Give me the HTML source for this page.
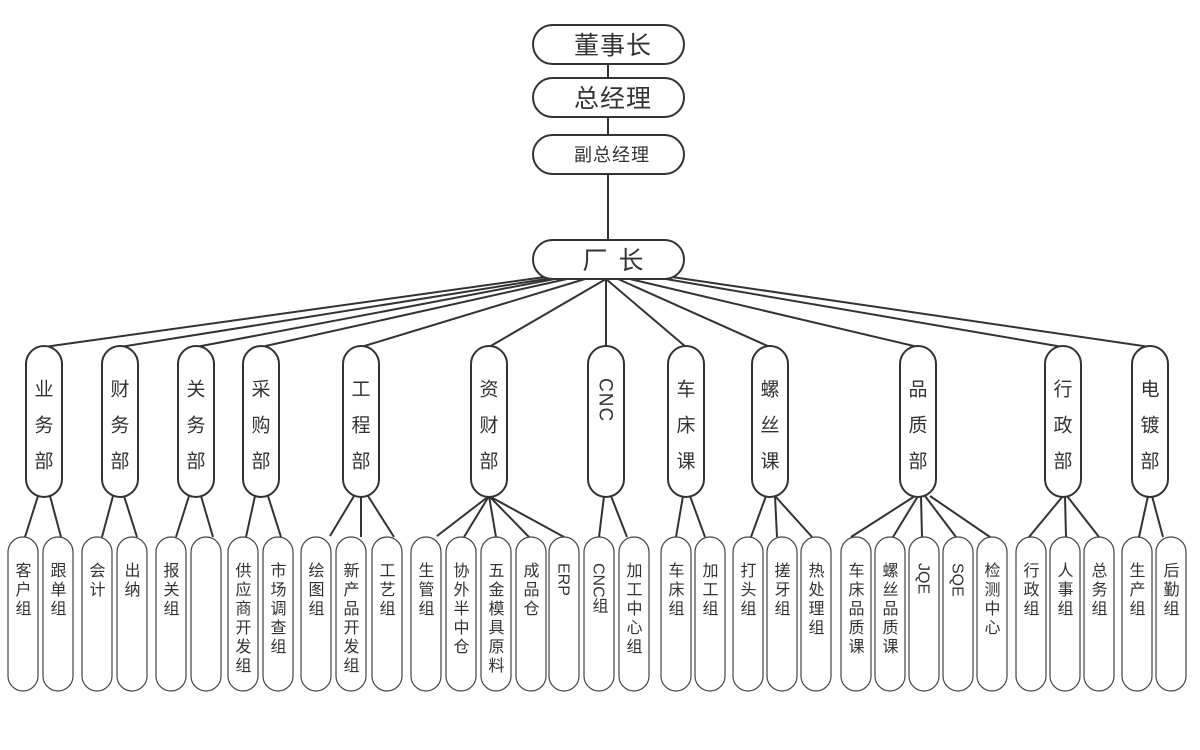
<!DOCTYPE html>
<html><head><meta charset="utf-8"><style>
html,body{margin:0;padding:0;background:#fff;}
svg{display:block;font-family:"Liberation Sans","Noto Sans CJK SC",sans-serif;}
.n{fill:#fff;stroke:#333;stroke-width:2;}
.b{fill:#fff;stroke:#444;stroke-width:1.2;}
.l{stroke:#333;stroke-width:2;fill:none;}
.v1{writing-mode:vertical-rl;font-size:19px;letter-spacing:17px;fill:#333;}
.v2{writing-mode:vertical-rl;font-size:16px;letter-spacing:3px;fill:#333;}
</style></head><body>
<svg width="1200" height="750" viewBox="0 0 1200 750">
<g class="l">
<line x1="608" y1="64" x2="608" y2="78"/>
<line x1="608" y1="117" x2="608" y2="135"/>
<line x1="608" y1="174" x2="608" y2="240"/>
<line x1="545" y1="277" x2="44" y2="347"/>
<line x1="552" y1="278" x2="120" y2="347"/>
<line x1="560" y1="278" x2="196" y2="347"/>
<line x1="567" y1="279" x2="261" y2="347"/>
<line x1="585" y1="279" x2="361" y2="347"/>
<line x1="606" y1="279" x2="489" y2="347"/>
<line x1="606" y1="279" x2="606" y2="347"/>
<line x1="606" y1="279" x2="686" y2="347"/>
<line x1="618" y1="279" x2="770" y2="347"/>
<line x1="630" y1="279" x2="918" y2="347"/>
<line x1="660" y1="278" x2="1063" y2="347"/>
<line x1="672" y1="277" x2="1150" y2="347"/>
<line x1="38" y1="496" x2="25" y2="537"/><line x1="50" y1="496" x2="61" y2="537"/>
<line x1="113" y1="496" x2="102" y2="537"/><line x1="124" y1="496" x2="137" y2="537"/>
<line x1="189" y1="496" x2="176" y2="537"/><line x1="201" y1="496" x2="213" y2="537"/>
<line x1="255" y1="496" x2="246" y2="537"/><line x1="268" y1="496" x2="281" y2="537"/>
<line x1="354" y1="496" x2="330" y2="536"/><line x1="361" y1="496" x2="361" y2="537"/><line x1="368" y1="496" x2="394" y2="537"/>
<line x1="489" y1="496" x2="437" y2="536"/><line x1="489" y1="496" x2="464" y2="537"/><line x1="489" y1="496" x2="496" y2="537"/><line x1="489" y1="496" x2="529" y2="537"/><line x1="489" y1="496" x2="564" y2="537"/>
<line x1="604" y1="496" x2="599" y2="537"/><line x1="611" y1="496" x2="627" y2="537"/>
<line x1="683" y1="496" x2="676" y2="537"/><line x1="690" y1="496" x2="705" y2="537"/>
<line x1="766" y1="496" x2="751" y2="537"/><line x1="775" y1="496" x2="777" y2="537"/><line x1="775" y1="496" x2="812" y2="537"/>
<line x1="915" y1="496" x2="851" y2="537"/><line x1="918" y1="496" x2="893" y2="537"/><line x1="921" y1="496" x2="922" y2="537"/><line x1="925" y1="496" x2="956" y2="537"/><line x1="930" y1="496" x2="990" y2="537"/>
<line x1="1063" y1="496" x2="1029" y2="537"/><line x1="1065" y1="496" x2="1066" y2="537"/><line x1="1067" y1="496" x2="1099" y2="537"/>
<line x1="1148" y1="496" x2="1139" y2="537"/><line x1="1152" y1="496" x2="1163" y2="537"/>
</g>
<rect class="n" x="533" y="25" width="151" height="39" rx="19.5"/>
<rect class="n" x="533" y="78" width="151" height="39" rx="19.5"/>
<rect class="n" x="533" y="135" width="151" height="39" rx="19.5"/>
<rect class="n" x="533" y="240" width="151" height="39" rx="19.5"/>
<g fill="#333" text-anchor="middle">
<text x="613" y="54" font-size="25" letter-spacing="1">董事长</text>
<text x="613" y="107" font-size="25" letter-spacing="1">总经理</text>
<text x="612" y="161" font-size="18" letter-spacing="1">副总经理</text>
<text x="614" y="269" font-size="25" letter-spacing="2">厂 长</text>
</g>
<g>
<rect class="n" x="26" y="346" width="36" height="151" rx="18"/>
<rect class="n" x="102" y="346" width="36" height="151" rx="18"/>
<rect class="n" x="178" y="346" width="36" height="151" rx="18"/>
<rect class="n" x="243" y="346" width="36" height="151" rx="18"/>
<rect class="n" x="343" y="346" width="36" height="151" rx="18"/>
<rect class="n" x="471" y="346" width="36" height="151" rx="18"/>
<rect class="n" x="588" y="346" width="36" height="151" rx="18"/>
<rect class="n" x="668" y="346" width="36" height="151" rx="18"/>
<rect class="n" x="752" y="346" width="36" height="151" rx="18"/>
<rect class="n" x="900" y="346" width="36" height="151" rx="18"/>
<rect class="n" x="1045" y="346" width="36" height="151" rx="18"/>
<rect class="n" x="1132" y="346" width="36" height="151" rx="18"/>
</g>
<g class="v1">
<text x="42" y="379">业务部</text>
<text x="118" y="379">财务部</text>
<text x="194" y="379">关务部</text>
<text x="259" y="379">采购部</text>
<text x="359" y="379">工程部</text>
<text x="487" y="379">资财部</text>
<text x="605" y="378" style="letter-spacing:1px">CNC</text>
<text x="684" y="379">车床课</text>
<text x="768" y="379">螺丝课</text>
<text x="916" y="379">品质部</text>
<text x="1061" y="379">行政部</text>
<text x="1148" y="379">电镀部</text>
</g>
<g>
<rect class="b" x="8" y="537" width="30" height="154" rx="15"/>
<rect class="b" x="43" y="537" width="30" height="154" rx="15"/>
<rect class="b" x="82" y="537" width="30" height="154" rx="15"/>
<rect class="b" x="117" y="537" width="30" height="154" rx="15"/>
<rect class="b" x="156" y="537" width="30" height="154" rx="15"/>
<rect class="b" x="191" y="537" width="30" height="154" rx="15"/>
<rect class="b" x="228" y="537" width="30" height="154" rx="15"/>
<rect class="b" x="263" y="537" width="30" height="154" rx="15"/>
<rect class="b" x="301" y="537" width="30" height="154" rx="15"/>
<rect class="b" x="336" y="537" width="30" height="154" rx="15"/>
<rect class="b" x="372" y="537" width="30" height="154" rx="15"/>
<rect class="b" x="411" y="537" width="30" height="154" rx="15"/>
<rect class="b" x="446" y="537" width="30" height="154" rx="15"/>
<rect class="b" x="481" y="537" width="30" height="154" rx="15"/>
<rect class="b" x="516" y="537" width="30" height="154" rx="15"/>
<rect class="b" x="549" y="537" width="30" height="154" rx="15"/>
<rect class="b" x="584" y="537" width="30" height="154" rx="15"/>
<rect class="b" x="619" y="537" width="30" height="154" rx="15"/>
<rect class="b" x="661" y="537" width="30" height="154" rx="15"/>
<rect class="b" x="695" y="537" width="30" height="154" rx="15"/>
<rect class="b" x="733" y="537" width="30" height="154" rx="15"/>
<rect class="b" x="767" y="537" width="30" height="154" rx="15"/>
<rect class="b" x="801" y="537" width="30" height="154" rx="15"/>
<rect class="b" x="841" y="537" width="30" height="154" rx="15"/>
<rect class="b" x="875" y="537" width="30" height="154" rx="15"/>
<rect class="b" x="909" y="537" width="30" height="154" rx="15"/>
<rect class="b" x="943" y="537" width="30" height="154" rx="15"/>
<rect class="b" x="977" y="537" width="30" height="154" rx="15"/>
<rect class="b" x="1016" y="537" width="30" height="154" rx="15"/>
<rect class="b" x="1050" y="537" width="30" height="154" rx="15"/>
<rect class="b" x="1084" y="537" width="30" height="154" rx="15"/>
<rect class="b" x="1122" y="537" width="30" height="154" rx="15"/>
<rect class="b" x="1156" y="537" width="30" height="154" rx="15"/>
</g>
<g class="v2">
<text x="21" y="562">客户组</text>
<text x="56" y="562">跟单组</text>
<text x="95" y="562">会计</text>
<text x="130" y="562">出纳</text>
<text x="169" y="562">报关组</text>
<text x="241" y="562">供应商开发组</text>
<text x="276" y="562">市场调查组</text>
<text x="314" y="562">绘图组</text>
<text x="349" y="562">新产品开发组</text>
<text x="385" y="562">工艺组</text>
<text x="424" y="562">生管组</text>
<text x="459" y="562">协外半中仓</text>
<text x="494" y="562">五金模具原料</text>
<text x="529" y="562">成品仓</text>
<text x="563" y="563" style="letter-spacing:0">ERP</text>
<text x="598" y="563" style="letter-spacing:0">CNC组</text>
<text x="632" y="562">加工中心组</text>
<text x="674" y="562">车床组</text>
<text x="708" y="562">加工组</text>
<text x="746" y="562">打头组</text>
<text x="780" y="562">搓牙组</text>
<text x="814" y="562">热处理组</text>
<text x="854" y="562">车床品质课</text>
<text x="888" y="562">螺丝品质课</text>
<text x="923" y="563" style="letter-spacing:0">JQE</text>
<text x="957" y="563" style="letter-spacing:0">SQE</text>
<text x="990" y="562">检测中心</text>
<text x="1029" y="562">行政组</text>
<text x="1063" y="562">人事组</text>
<text x="1097" y="562">总务组</text>
<text x="1135" y="562">生产组</text>
<text x="1169" y="562">后勤组</text>
</g>
</svg>
</body></html>
